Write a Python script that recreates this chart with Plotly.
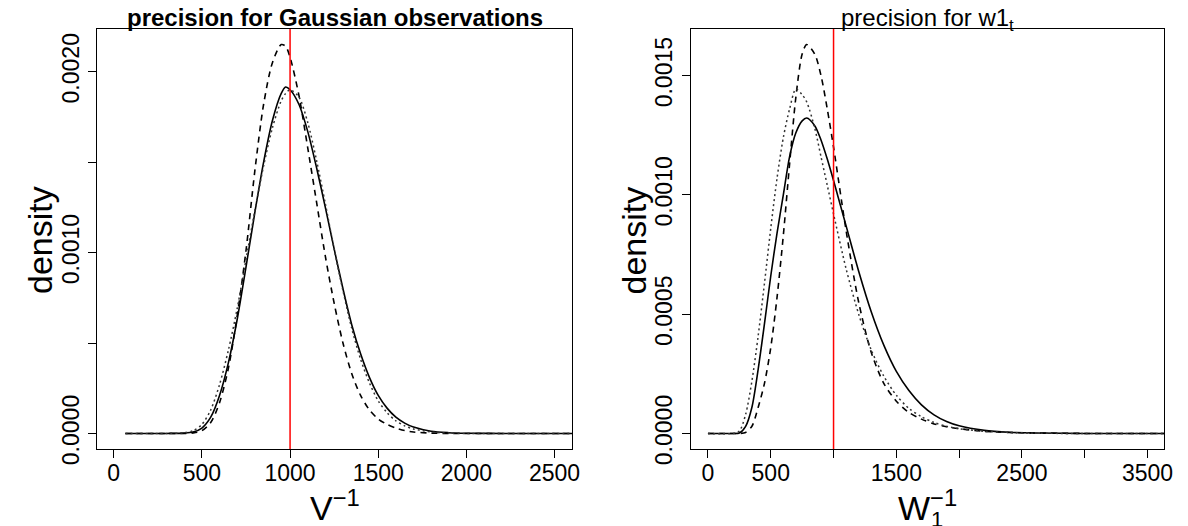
import plotly.graph_objects as go

# ---------------- data ----------------
# Left panel: precision for Gaussian observations (V^-1)
V_GRID = [66, 300, 400, 450, 500, 550, 600, 650, 700, 750, 800, 850, 900, 950, 975,
          1000, 1050, 1100, 1150, 1200, 1250, 1300, 1350, 1400, 1450, 1500, 1550,
          1600, 1650, 1700, 1800, 1900, 2000, 2200, 2700]
V_SOLID = [0, 0, 0.000002, 0.000008, 0.00003, 0.00009, 0.00021, 0.00039, 0.00063,
           0.00092, 0.00122, 0.00150, 0.00173, 0.00188, 0.001915, 0.00190, 0.00182,
           0.00167, 0.00147, 0.00125, 0.00102, 0.00080, 0.00060, 0.00044, 0.00031,
           0.00021, 0.00014, 0.00009, 0.000057, 0.000035, 0.000012, 0.000004,
           0.000001, 0, 0]
V_DASHED = [0, 0, 0, 0.000003, 0.000015, 0.00006, 0.00017, 0.00036, 0.00065, 0.00101,
            0.00145, 0.00182, 0.00205, 0.00215, 0.00214, 0.00208, 0.00187, 0.00158,
            0.00128, 0.00098, 0.00072, 0.00050, 0.00033, 0.00021, 0.00013, 0.00008,
            0.00005, 0.00003, 0.000016, 0.000008, 0.000002, 0, 0, 0, 0]
V_DOTTED = [0, 0, 0.000004, 0.000015, 0.00005, 0.00013, 0.00027, 0.00046, 0.00069,
            0.00096, 0.00123, 0.00148, 0.00169, 0.00184, 0.00188, 0.00190, 0.00186,
            0.00172, 0.00151, 0.00127, 0.00102, 0.00079, 0.00058, 0.00041, 0.00028,
            0.00018, 0.000115, 0.00007, 0.000042, 0.000025, 0.000008, 0.000002, 0, 0, 0]

# Right panel: precision for w1_t (W_1^-1)
W_GRID = [0, 200, 250, 300, 350, 400, 450, 500, 550, 600, 650, 700, 750, 786, 850, 900,
          950, 1000, 1100, 1200, 1300, 1400, 1500, 1600, 1700, 1800, 1900, 2000, 2200,
          2400, 2600, 3000, 3700]
W_SOLID = [0, 0, 0.000002, 0.00003, 0.00011, 0.00027, 0.00046, 0.00066, 0.00084,
           0.00100, 0.00116, 0.00126, 0.00131, 0.001322, 0.00129, 0.00123, 0.00115,
           0.00106, 0.00087, 0.00068, 0.00051, 0.00037, 0.00026, 0.00018, 0.00012,
           0.000078, 0.00005, 0.000032, 0.000013, 0.000005, 0.000002, 0, 0]
W_DASHED = [0, 0, 0, 0.000004, 0.00003, 0.00011, 0.00021, 0.00036, 0.00057, 0.00083,
            0.00113, 0.00141, 0.00159, 0.00163, 0.00159, 0.00150, 0.00136, 0.00120,
            0.00085, 0.00055, 0.00034, 0.00021, 0.000135, 0.000088, 0.00006, 0.00004,
            0.000028, 0.00002, 0.000009, 0.000004, 0.000002, 0, 0]
W_DOTTED = [0, 0, 0.00001, 0.00008, 0.00022, 0.00041, 0.00063, 0.00086, 0.00107,
            0.00124, 0.00136, 0.001443, 0.00142, 0.00139, 0.00128, 0.00116, 0.00104,
            0.00092, 0.00069, 0.00050, 0.00035, 0.00024, 0.00016, 0.000105, 0.00007,
            0.000046, 0.00003, 0.00002, 0.000009, 0.000004, 0.000001, 0, 0]

TRUE_VALUE = [1000, 1000]  # red reference lines (left, right)

V_TICKS = [0, 500, 1000, 1500, 2000, 2500]
V_TICKTEXT = ["0", "500", "1000", "1500", "2000", "2500"]
W_TICKS = [0, 500, 1000, 1500, 2000, 2500, 3000, 3500]
W_TICKTEXT = ["0", "500", "", "1500", "", "2500", "", "3500"]
YL_TICKS = [0, 0.0005, 0.0010, 0.0015, 0.0020]
YL_TICKTEXT = ["0.0000", "", "0.0010", "", "0.0020"]
YR_TICKS = [0, 0.0005, 0.0010, 0.0015]
YR_TICKTEXT = ["0.0000", "0.0005", "0.0010", "0.0015"]

# ---------------- figure ----------------
W, H = 1188, 526
FONT = "Liberation Sans, Arial, Helvetica, sans-serif"

fig = go.Figure()

styles = [("solid", 1.6, "black"), ("6px,5px", 1.6, "black"), ("2px,3px", 1.5, "#333333")]
for ys, (dash, lw, col) in zip([V_SOLID, V_DASHED, V_DOTTED], styles):
    fig.add_trace(go.Scatter(x=V_GRID, y=ys, mode="lines", xaxis="x", yaxis="y",
                             line=dict(color=col, width=lw, dash=dash, shape="spline", smoothing=0.8),
                             showlegend=False, hoverinfo="skip"))
for ys, (dash, lw, col) in zip([W_SOLID, W_DASHED, W_DOTTED], styles):
    fig.add_trace(go.Scatter(x=W_GRID, y=ys, mode="lines", xaxis="x2", yaxis="y2",
                             line=dict(color=col, width=lw, dash=dash, shape="spline", smoothing=0.8),
                             showlegend=False, hoverinfo="skip"))

def px_x(p):
    return p / W

def px_y(p):
    return 1 - p / H

axis_common = dict(showline=True, mirror=True, linecolor="black", linewidth=1,
                   ticks="outside", ticklen=8, tickwidth=1, tickcolor="black",
                   showgrid=False, zeroline=False, automargin=False,
                   tickfont=dict(family=FONT, size=23, color="black"))

fig.update_layout(
    template="none",
    width=W, height=H,
    margin=dict(l=0, r=0, t=0, b=0, pad=0, autoexpand=False),
    paper_bgcolor="white", plot_bgcolor="white",
    xaxis=dict(domain=[px_x(97), px_x(572)], range=[-95, 2599], anchor="y",
               tickmode="array", tickvals=V_TICKS, ticktext=V_TICKTEXT,
               ticklabelstandoff=-5, **axis_common),
    yaxis=dict(domain=[px_y(449), px_y(29)], range=[-0.000086, 0.002236], anchor="x",
               tickmode="array", tickvals=YL_TICKS, ticktext=YL_TICKTEXT, tickangle=-90,
               **axis_common),
    xaxis2=dict(domain=[px_x(690.5), px_x(1164)], range=[-139, 3631], anchor="y2",
                tickmode="array", tickvals=W_TICKS, ticktext=W_TICKTEXT,
                ticklabelstandoff=-5, **axis_common),
    yaxis2=dict(domain=[px_y(449), px_y(29)], range=[-0.0000652, 0.0016952], anchor="x2",
                tickmode="array", tickvals=YR_TICKS, ticktext=YR_TICKTEXT, tickangle=-90,
                **axis_common),
)

for xr, val in zip(["x", "x2"], TRUE_VALUE):
    fig.add_shape(type="line", xref=xr, yref=xr.replace("x", "y") + " domain",
                  x0=val, x1=val, y0=0, y1=1, line=dict(color="red", width=1.5))

ann = []
ann.append(dict(text="<b>precision for Gaussian observations</b>", x=px_x(334.5), y=px_y(18),
                font=dict(family=FONT, size=24, color="black")))
ann.append(dict(text="precision for w1<sub>t</sub>", x=px_x(927), y=px_y(19),
                font=dict(family=FONT, size=24, color="black")))
for cx in [40, 633.5]:
    ann.append(dict(text="density", x=px_x(cx), y=px_y(240), textangle=-90,
                    font=dict(family=FONT, size=34, color="black")))
ann.append(dict(text="V<sup>\u22121</sup>", x=px_x(334.5), y=px_y(505),
                font=dict(family=FONT, size=34, color="black")))
ann.append(dict(text="W<sup>\u22121</sup>", x=px_x(927), y=px_y(505),
                font=dict(family=FONT, size=34, color="black")))
ann.append(dict(text="1", x=px_x(937), y=px_y(519),
                font=dict(family=FONT, size=22, color="black")))
for a in ann:
    a.update(xref="paper", yref="paper", showarrow=False, xanchor="center", yanchor="middle")
fig.update_layout(annotations=ann)

fig.write_html("out.html")
